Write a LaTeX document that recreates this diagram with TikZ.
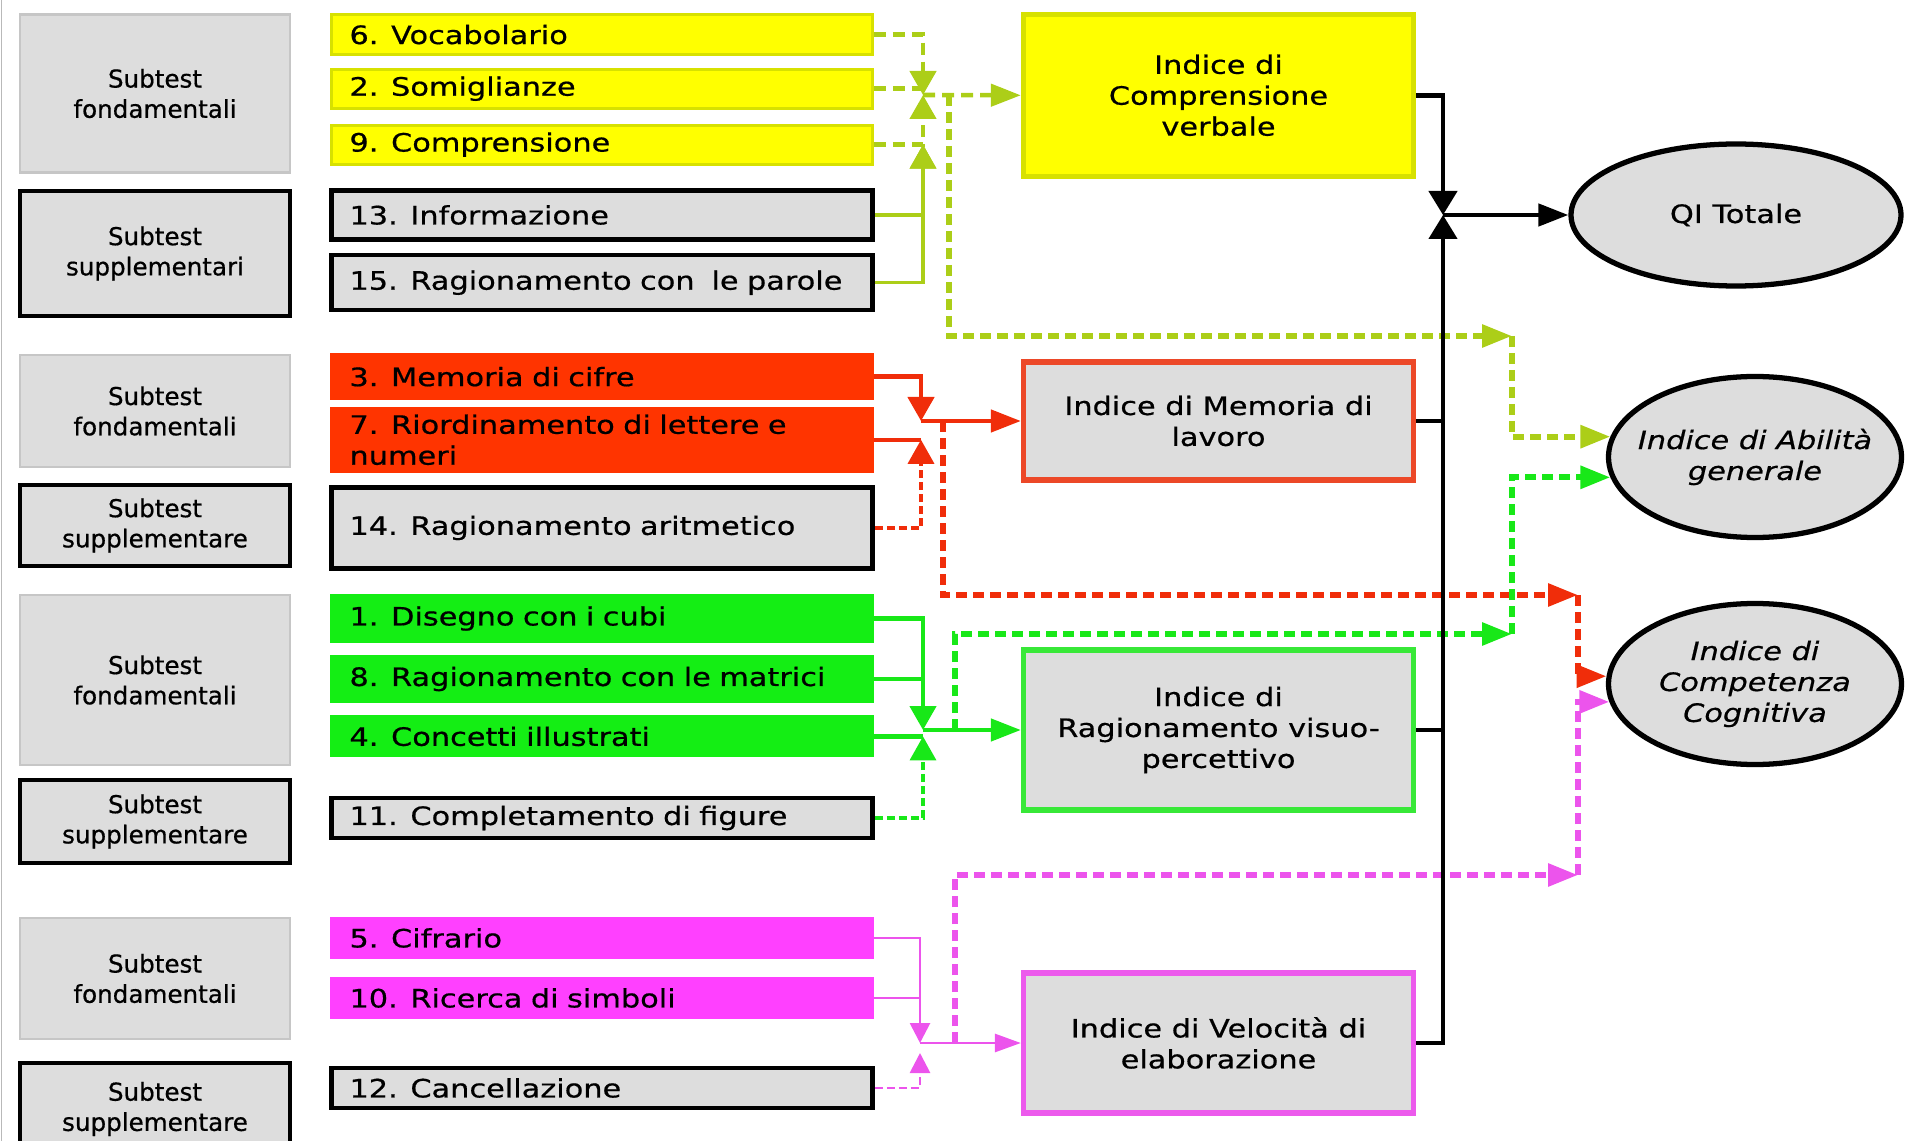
\documentclass[tikz,border=0pt]{standalone}
\usepackage{fontspec}
\setmainfont{DejaVu Sans}[FakeStretch=1.2,FakeBold=0.6]
\newfontfamily\groupfont{DejaVu Sans}[FakeBold=0.6]
\usepackage{xcolor}
\usepackage{tikz}
\usetikzlibrary{
    arrows.meta,
    shapes.geometric
}
\definecolor{boxgray}{RGB}{221,221,221}
\definecolor{yfill}{RGB}{255,255,0}
\definecolor{yedge}{RGB}{215,225,0}
\definecolor{yline}{RGB}{172,206,24}
\definecolor{rfill}{RGB}{255,52,0}
\definecolor{rline}{RGB}{240,45,10}
\definecolor{redge}{RGB}{236,72,40}
\definecolor{gfill}{RGB}{20,238,20}
\definecolor{gline}{RGB}{24,232,24}
\definecolor{gedge}{RGB}{56,232,56}
\definecolor{mfill}{RGB}{255,64,255}
\definecolor{mline}{RGB}{236,84,236}
\definecolor{medge}{RGB}{236,90,236}
\tikzstyle{group} = [draw=gray!45, fill=boxgray, line width=0.6pt, minimum width=27mm, inner sep=0pt, align=center, font=\groupfont\fontsize{7}{8.6}\selectfont]
\tikzstyle{groupsup} = [group, draw=black, line width=1.3pt]
\tikzstyle{sub} = [text width=50.5mm, inner xsep=1.8mm, inner ysep=0pt, align=left, line width=0.8pt, font=\fontsize{7.2}{8.8}\selectfont]
\tikzstyle{subsup} = [sub, draw=black, fill=boxgray, line width=1.3pt]
\tikzstyle{index} = [minimum width=39mm, inner sep=0pt, align=center, line width=1.5pt, font=\fontsize{7.2}{8.8}\selectfont]
\tikzstyle{score} = [ellipse, draw=black, fill=boxgray, line width=1.5pt, inner xsep=-3mm, inner ysep=0pt, align=center, minimum width=29.3mm, minimum height=16.1mm, font=\itshape\fontsize{7.2}{8.8}\selectfont]
\tikzstyle{arr} = [-{Triangle[length=2.4mm,width=2.6mm]}]
\tikzstyle{arrh} = [-{Triangle[length=3mm,width=2.2mm]}]
\tikzstyle{branch} = [line width=1.7pt, dash pattern=on 1.1mm off 0.6mm]

\begin{document}
\begin{tikzpicture}[x=1mm,y=-1mm]
\useasboundingbox (0,0) rectangle (190.5,114.1);
\draw[gray!55, line width=0.4pt] (0.15,0) -- (0.15,114.1);

\node[group, minimum height=15.8mm] (g1) at (15.5,9.35) {Subtest\\fondamentali};
\node[groupsup, minimum height=12.5mm] (g2) at (15.5,25.35) {Subtest\\supplementari};
\node[group, minimum height=11.2mm] (g3) at (15.5,41.1) {Subtest\\fondamentali};
\node[groupsup, minimum height=8.1mm] (g4) at (15.5,52.55) {Subtest\\supplementare};
\node[group, minimum height=17mm] (g5) at (15.5,68) {Subtest\\fondamentali};
\node[groupsup, minimum height=8.3mm] (g6) at (15.5,82.15) {Subtest\\supplementare};
\node[group, minimum height=12.1mm] (g7) at (15.5,97.85) {Subtest\\fondamentali};
\node[groupsup, minimum height=9.2mm] (g8) at (15.5,110.9) {Subtest\\supplementare};

\node[sub, draw=yedge, fill=yfill, minimum height=4mm] (s6) at (60.2,3.46) {6. Vocabolario};
\node[sub, draw=yedge, fill=yfill, minimum height=3.9mm] (s2) at (60.2,8.87) {2. Somiglianze};
\node[sub, draw=yedge, fill=yfill, minimum height=3.9mm] (s9) at (60.2,14.46) {9. Comprensione};
\node[subsup, minimum height=4.9mm] (s13) at (60.2,21.5) {13. Informazione};
\node[subsup, minimum height=5.5mm] (s15) at (60.2,28.27) {15. Ragionamento con\ \ le parole};
\node[sub, draw=rfill, fill=rfill, minimum height=4.4mm] (s3) at (60.2,37.67) {3. Memoria di cifre};
\node[sub, draw=rfill, fill=rfill, minimum height=6.3mm] (s7) at (60.2,43.98) {7. Riordinamento di lettere e\\numeri};
\node[subsup, minimum height=8.1mm] (s14) at (60.2,52.79) {14. Ragionamento aritmetico};
\node[sub, draw=gfill, fill=gfill, minimum height=4.6mm] (s1) at (60.2,61.85) {1. Disegno con i cubi};
\node[sub, draw=gfill, fill=gfill, minimum height=4.6mm] (s8) at (60.2,67.9) {8. Ragionamento con le matrici};
\node[sub, draw=gfill, fill=gfill, minimum height=3.9mm] (s4) at (60.2,73.64) {4. Concetti illustrati};
\node[subsup, minimum height=4mm] (s11) at (60.2,81.8) {11. Completamento di figure};
\node[sub, draw=mfill, fill=mfill, minimum height=4mm] (s5) at (60.2,93.8) {5. Cifrario};
\node[sub, draw=mfill, fill=mfill, minimum height=4mm] (s10) at (60.2,99.8) {10. Ricerca di simboli};
\node[subsup, minimum height=4mm] (s12) at (60.2,108.8) {12. Cancellazione};

\node[index, draw=yedge, fill=yfill, minimum height=16.2mm] (icv) at (121.85,9.53) {Indice di\\Comprensione\\verbale};
\node[index, draw=redge, fill=boxgray, minimum height=11.8mm] (iml) at (121.85,42.1) {Indice di Memoria di\\lavoro};
\node[index, draw=gedge, fill=boxgray, minimum height=16mm] (irp) at (121.85,73) {Indice di\\Ragionamento visuo-\\percettivo};
\node[index, draw=medge, fill=boxgray, minimum height=14mm] (ive) at (121.85,104.3) {Indice di Velocità di\\elaborazione};

\node[score, font=\fontsize{7.2}{8.8}\selectfont, minimum width=33mm, minimum height=14.2mm] (qi) at (173.6,21.5) {QI Totale};
\node[score] (iag) at (175.5,45.7) {Indice di Abilità\\generale};
\node[score] (icc) at (175.5,68.4) {Indice di\\Competenza\\Cognitiva};

\coordinate (jy) at (92.3,9.5);
\coordinate (jy2) at (92.3,14.46);
\coordinate (by) at (94.9,9.5);
\coordinate (cy) at (151.2,33.6);
\coordinate (jr) at (92.1,42.1);
\coordinate (jr2) at (92.1,43.98);
\coordinate (br) at (94.3,42.1);
\coordinate (cr) at (157.8,59.5);
\coordinate (jg) at (92.3,73);
\coordinate (jg2) at (92.3,73.64);
\coordinate (bg) at (95.5,73);
\coordinate (cg) at (151.2,63.4);
\coordinate (jm) at (92,104.3);
\coordinate (jm2) at (92,105.3);
\coordinate (bm) at (95.5,104.3);
\coordinate (cm) at (157.8,87.5);
\coordinate (jq) at (144.3,21.5);

\draw[yline, line width=1.3pt, dash pattern=on 1.2mm off 0.7mm, arr] (s6.east) -| (jy);
\draw[yline, line width=1.3pt, dash pattern=on 1.2mm off 0.7mm] (s2.east) -- (s2.east -| jy);
\draw[yline, line width=1.3pt, dash pattern=on 1.2mm off 0.7mm, arr] (s9.east) -| (jy);
\draw[yline, line width=1pt, arr] (s13.east) -| (jy2);
\draw[yline, line width=1pt, arr] (s15.east) -| (jy2);
\draw[yline, line width=1.3pt, dash pattern=on 1.2mm off 0.7mm, arrh] (jy) -- (icv.west);
\draw[yline, branch, arrh] (by) |- (cy);
\draw[yline, branch, arrh] (cy) |- (iag.172);

\draw[rline, line width=1.3pt, arr] (s3.east) -| (jr);
\draw[rline, line width=1.3pt] (s7.east) -- (s7.east -| jr);
\draw[rline, line width=1pt, dash pattern=on 0.8mm off 0.4mm, arr] (s14.east) -| (jr2);
\draw[rline, line width=1.3pt, arrh] (jr) -- (iml.west);
\draw[rline, branch, arrh] (br) |- (cr);
\draw[rline, branch, arrh] (cr) |- (icc.177);

\draw[gline, line width=1.3pt, arr] (s1.east) -| (jg);
\draw[gline, line width=1.3pt] (s8.east) -- (s8.east -| jg);
\draw[gline, line width=1.3pt] (s4.east) -- (s4.east -| jg);
\draw[gline, line width=1pt, dash pattern=on 0.8mm off 0.4mm, arr] (s11.east) -| (jg2);
\draw[gline, line width=1.3pt, arrh] (jg) -- (irp.west);
\draw[gline, branch, arrh] (bg) |- (cg);
\draw[gline, branch, arrh] (cg) |- (iag.188);

\draw[mline, line width=0.8pt, -{Triangle[length=2mm,width=2mm]}] (s5.east) -| (jm);
\draw[mline, line width=0.8pt] (s10.east) -- (s10.east -| jm);
\draw[mline, line width=0.8pt, dash pattern=on 0.8mm off 0.4mm, -{Triangle[length=2mm,width=2mm]}] (s12.east) -| (jm2);
\draw[mline, line width=0.8pt, -{Triangle[length=2.6mm,width=1.8mm]}] (jm) -- (ive.west);
\draw[mline, branch, arrh] (bm) |- (cm);
\draw[mline, branch, arrh] (cm) |- (icc.187);

\draw[black, line width=1.3pt, -{Triangle[length=2.4mm,width=2.8mm]}] (icv.east) -| (jq);
\draw[black, line width=1.3pt, -{Triangle[length=2.4mm,width=2.8mm]}] (ive.east) -| (jq);
\draw[black, line width=1.3pt] (iml.east) -- (iml.east -| jq);
\draw[black, line width=1.3pt] (irp.east) -- (irp.east -| jq);
\draw[black, line width=1.3pt, -{Triangle[length=3mm,width=2.2mm]}] (jq) -- (qi);
\end{tikzpicture}
\end{document}
